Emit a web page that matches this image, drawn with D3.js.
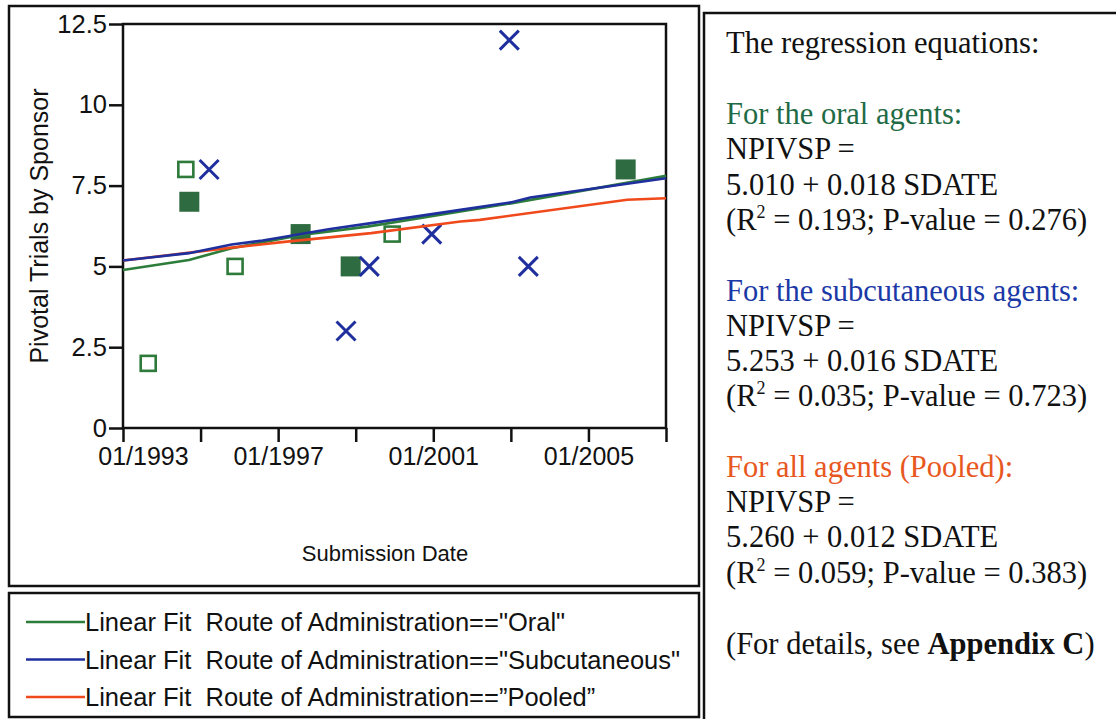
<!DOCTYPE html>
<html><head><meta charset="utf-8">
<script src="https://cdn.jsdelivr.net/npm/d3@7"></script>
<style>body{margin:0;background:#fff}svg{display:block}</style>
</head><body><svg id="c" width="1116" height="719"></svg>
<script>
// ---- data (decimal submission year, pivotal trials) ----
const oralOpenDates   = [1993.65, 1994.62, 1995.89, 1999.94];
const oralOpenValues  = [2, 8, 5, 6];
const oralFilledDates = [1994.71, 1997.58, 1998.87, 2005.96];
const oralFilledValues= [7, 6, 5, 8];
const subcutDates     = [1995.22, 1998.75, 1999.35, 2000.96, 2002.96, 2003.45];
const subcutValues    = [8, 3, 5, 6, 12, 5];

// fit lines
const fitOralDates    = [1993, 1994.7, 1995.8, 1997.6, 1999.3, 2001.7, 2003.0, 2007];
const fitOralValues   = [4.89, 5.2, 5.56, 5.97, 6.23, 6.7, 6.95, 7.8];
const fitSubDates     = [1993, 1994.7, 1995.8, 1996.6, 1997.1, 1998.3, 1999.4, 2001.7, 2003.0, 2003.5, 2007];
const fitSubValues    = [5.18, 5.41, 5.68, 5.8, 5.9, 6.15, 6.34, 6.75, 6.98, 7.13, 7.73];
const fitPoolDates    = [1993, 1995.8, 1997.1, 1999.4, 2001.7, 2002.2, 2006.0, 2007];
const fitPoolValues   = [5.18, 5.58, 5.75, 6.03, 6.39, 6.44, 7.06, 7.11];

const yTicks = [0, 2.5, 5, 7.5, 10, 12.5];
const yTickLabels = ["0", "2.5", "5", "7.5", "10", "12.5"];
const xTicks = [1993, 1995, 1997, 1999, 2001, 2003, 2005, 2007];
const xTickLabels = {1993: "01/1993", 1997: "01/1997", 2001: "01/2001", 2005: "01/2005"};

const legendLabels = [
  'Linear Fit  Route of Administration=="Oral"',
  'Linear Fit  Route of Administration=="Subcutaneous"',
  'Linear Fit  Route of Administration==”Pooled”'
];
const seriesColors = ["#2d7d3a", "#1f2f9e", "#f04a1c"];

// ---- drawing ----
const svg = d3.select("#c");
svg.append("rect").attr("width", 1116).attr("height", 719).attr("fill", "#fff");

// frames
svg.append("rect").attr("x", 9).attr("y", 6).attr("width", 690).attr("height", 580)
  .attr("fill", "none").attr("stroke", "#111").attr("stroke-width", 2.5);
svg.append("rect").attr("x", 9).attr("y", 593).attr("width", 690).attr("height", 124)
  .attr("fill", "none").attr("stroke", "#111").attr("stroke-width", 2.5);
svg.append("rect").attr("x", 704).attr("y", 13).attr("width", 430).attr("height", 730)
  .attr("fill", "none").attr("stroke", "#111").attr("stroke-width", 2.5);

const x = d3.scaleLinear().domain([1993, 2007]).range([123, 666]);
const y = d3.scaleLinear().domain([0, 12.5]).range([428, 24]);

const font = "'Liberation Sans', Arial, sans-serif";

// plot box
svg.append("rect").attr("x", x(1993)).attr("y", y(12.5))
  .attr("width", x(2007) - x(1993)).attr("height", y(0) - y(12.5))
  .attr("fill", "none").attr("stroke", "#111").attr("stroke-width", 2.5);

// y axis
const yAxis = d3.axisLeft(y).tickValues(yTicks).tickSize(14).tickPadding(2)
  .tickFormat((d, i) => yTickLabels[yTicks.indexOf(d)]);
const gy = svg.append("g").attr("transform", `translate(${x(1993)},0)`).call(yAxis);
gy.select(".domain").remove();
gy.selectAll("line").attr("stroke", "#111").attr("stroke-width", 2.5);
gy.selectAll("text").attr("font-family", font).attr("font-size", 25.5).attr("fill", "#111");

// x axis
const xAxis = d3.axisBottom(x).tickValues(xTicks).tickSize(14).tickPadding(5)
  .tickFormat(d => xTickLabels[d] || "");
const gx = svg.append("g").attr("transform", `translate(0,${y(0)})`).call(xAxis);
gx.select(".domain").remove();
gx.selectAll("line").attr("stroke", "#111").attr("stroke-width", 2.5);
gx.selectAll("text").attr("font-family", font).attr("font-size", 25).attr("fill", "#111");
gx.selectAll(".tick").filter(d => d === 1993).select("text").attr("dx", 20);

// axis titles
svg.append("text").attr("transform", `translate(48,${(y(0) + y(12.5)) / 2}) rotate(-90)`)
  .attr("text-anchor", "middle").attr("font-family", font).attr("font-size", 25)
  .attr("fill", "#111").text("Pivotal Trials by Sponsor");
svg.append("text").attr("x", 385).attr("y", 561).attr("text-anchor", "middle")
  .attr("font-family", font).attr("font-size", 22).attr("fill", "#111").text("Submission Date");

// markers
const plot = svg.append("g");
plot.selectAll(".fsq").data(d3.zip(oralFilledDates, oralFilledValues)).join("rect")
  .attr("x", d => x(d[0]) - 10).attr("y", d => y(d[1]) - 10)
  .attr("width", 20).attr("height", 20).attr("fill", "#2e6b40");
plot.selectAll(".osq").data(d3.zip(oralOpenDates, oralOpenValues)).join("rect")
  .attr("x", d => x(d[0]) - 7.5).attr("y", d => y(d[1]) - 7.5)
  .attr("width", 15).attr("height", 15).attr("fill", "none")
  .attr("stroke", "#2d7a3a").attr("stroke-width", 2.6);
plot.selectAll(".xm").data(d3.zip(subcutDates, subcutValues)).join("path")
  .attr("d", d => { const cx = x(d[0]), cy = y(d[1]), r = 9.5;
    return `M${cx - r},${cy - r}L${cx + r},${cy + r}M${cx - r},${cy + r}L${cx + r},${cy - r}`; })
  .attr("stroke", "#1f2f9e").attr("stroke-width", 3).attr("fill", "none");

// fit lines
const line = d3.line().x(d => x(d[0])).y(d => y(d[1]));
const fits = [
  d3.zip(fitOralDates, fitOralValues),
  d3.zip(fitPoolDates, fitPoolValues),
  d3.zip(fitSubDates, fitSubValues)
];
const fitColors = [seriesColors[0], seriesColors[2], seriesColors[1]];
plot.selectAll(".fit").data(fits).join("path")
  .attr("d", line).attr("fill", "none")
  .attr("stroke", (d, i) => fitColors[i]).attr("stroke-width", 2.6);

// legend
const lg = svg.append("g");
legendLabels.forEach((t, i) => {
  const ly = 622 + i * 37.5;
  lg.append("line").attr("x1", 26).attr("x2", 85).attr("y1", ly).attr("y2", ly)
    .attr("stroke", seriesColors[i]).attr("stroke-width", 2.5);
  lg.append("text").attr("x", 85).attr("y", ly + 9).attr("font-family", font)
    .attr("font-size", 25.5).attr("fill", "#111").attr("xml:space", "preserve")
    .style("white-space", "pre").text(t);
});

// right panel text
const serif = "'Liberation Serif', 'Times New Roman', serif";
const panel = svg.append("g").attr("font-family", serif).attr("font-size", 30.5).attr("fill", "#111");
function addLine(yy, parts, color) {
  const t = panel.append("text").attr("x", 726).attr("y", yy).attr("fill", color || "#111")
    .style("white-space", "pre");
  parts.forEach(p => {
    const s = t.append("tspan").text(p.t);
    if (p.sup) s.attr("font-size", 18).attr("dy", -12);
    if (p.down) s.attr("dy", 12);
    if (p.bold) s.attr("font-weight", "bold");
  });
}
addLine(53, [{t: "The regression equations:"}]);
addLine(124, [{t: "For the oral agents:"}], "#1f6b45");
addLine(159, [{t: "NPIVSP ="}]);
addLine(195, [{t: "5.010 + 0.018 SDATE"}]);
addLine(230, [{t: "(R"}, {t: "2", sup: true}, {t: " = 0.193; P-value = 0.276)", down: true}]);
addLine(301, [{t: "For the subcutaneous agents:"}], "#1b39a6");
addLine(336, [{t: "NPIVSP ="}]);
addLine(371, [{t: "5.253 + 0.016 SDATE"}]);
addLine(406, [{t: "(R"}, {t: "2", sup: true}, {t: " = 0.035; P-value = 0.723)", down: true}]);
addLine(477, [{t: "For all agents (Pooled):"}], "#e8571e");
addLine(512, [{t: "NPIVSP ="}]);
addLine(547, [{t: "5.260 + 0.012 SDATE"}]);
addLine(583, [{t: "(R"}, {t: "2", sup: true}, {t: " = 0.059; P-value = 0.383)", down: true}]);
addLine(654, [{t: "(For details, see "}, {t: "Appendix C", bold: true}, {t: ")"}]);
</script></body></html>
